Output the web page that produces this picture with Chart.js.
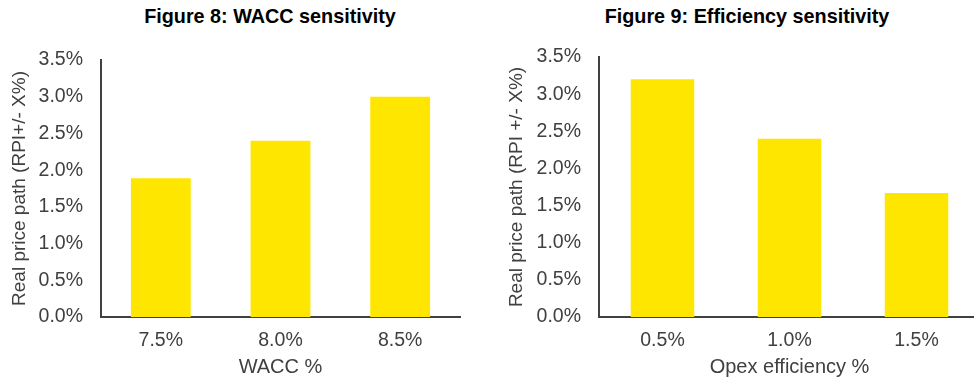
<!DOCTYPE html>
<html>
<head>
<meta charset="utf-8">
<script src="https://cdn.jsdelivr.net/npm/chart.js@4/dist/chart.umd.min.js"></script>
<style>
  body { margin: 0; background: #fff; width: 974px; height: 381px; overflow: hidden; position: relative; }
  .box { position: absolute; top: 0; height: 381px; }
  .ttl { position: absolute; top: 5px; font: bold 19.8px "Liberation Sans", Arial, sans-serif; color: #000; white-space: nowrap; transform: translateX(-50%); }
</style>
</head>
<body>
<div class="ttl" style="left:270px">Figure 8: WACC sensitivity</div>
<div class="ttl" style="left:747px">Figure 9: Efficiency sensitivity</div>
<div class="box" style="left:0;width:462px"><canvas id="waccChart"></canvas></div>
<div class="box" style="left:490px;width:492px"><canvas id="effChart"></canvas></div>
<script>
const waccLabels = ['7.5%', '8.0%', '8.5%'];
const waccValues = [1.89, 2.40, 3.00];
const effLabels = ['0.5%', '1.0%', '1.5%'];
const effValues = [3.20, 2.40, 1.67];
const yTicks = [0, 0.5, 1, 1.5, 2, 2.5, 3, 3.5];

const fam = '"Liberation Sans", Arial, sans-serif';
const grey = '#404040';

function makeChart(id, labels, values, xTitle, yTitle, yWidth, topPad, yTitlePad) {
  return new Chart(document.getElementById(id), {
    type: 'bar',
    data: {
      labels: labels,
      datasets: [{
        data: values,
        backgroundColor: '#FFE600',
        barPercentage: 0.5,
        categoryPercentage: 1
      }]
    },
    options: {
      responsive: true,
      maintainAspectRatio: false,
      animation: false,
      layout: { padding: { top: topPad, right: 2, left: 0, bottom: 0 } },
      plugins: { legend: { display: false }, tooltip: { enabled: false } },
      scales: {
        x: {
          grid: { display: false, drawTicks: false },
          border: { color: grey, width: 2 },
          ticks: { font: { family: fam, size: 19.5 }, color: grey, padding: 12 },
          title: { display: true, text: xTitle, font: { family: fam, size: 20 }, color: grey, padding: { top: 4, bottom: 2 } },
          afterFit: s => { s.height = 64; }
        },
        y: {
          min: 0,
          max: 3.5,
          afterBuildTicks: s => { s.ticks = yTicks.map(v => ({ value: v })); },
          grid: { display: false, drawTicks: false },
          border: { color: grey, width: 2 },
          ticks: {
            font: { family: fam, size: 19.5 },
            color: grey,
            padding: 18,
            callback: v => v.toFixed(1) + '%'
          },
          title: { display: true, text: yTitle, font: { family: fam, size: 19 }, color: grey, padding: { bottom: 0, top: yTitlePad } },
          afterFit: s => { s.width = yWidth; }
        }
      }
    }
  });
}

makeChart('waccChart', waccLabels, waccValues, 'WACC %', 'Real price path (RPI+/- X%)', 101, 60, 8);
makeChart('effChart', effLabels, effValues, 'Opex efficiency %', 'Real price path (RPI +/- X%)', 109, 57, 15);
</script>
</body>
</html>
